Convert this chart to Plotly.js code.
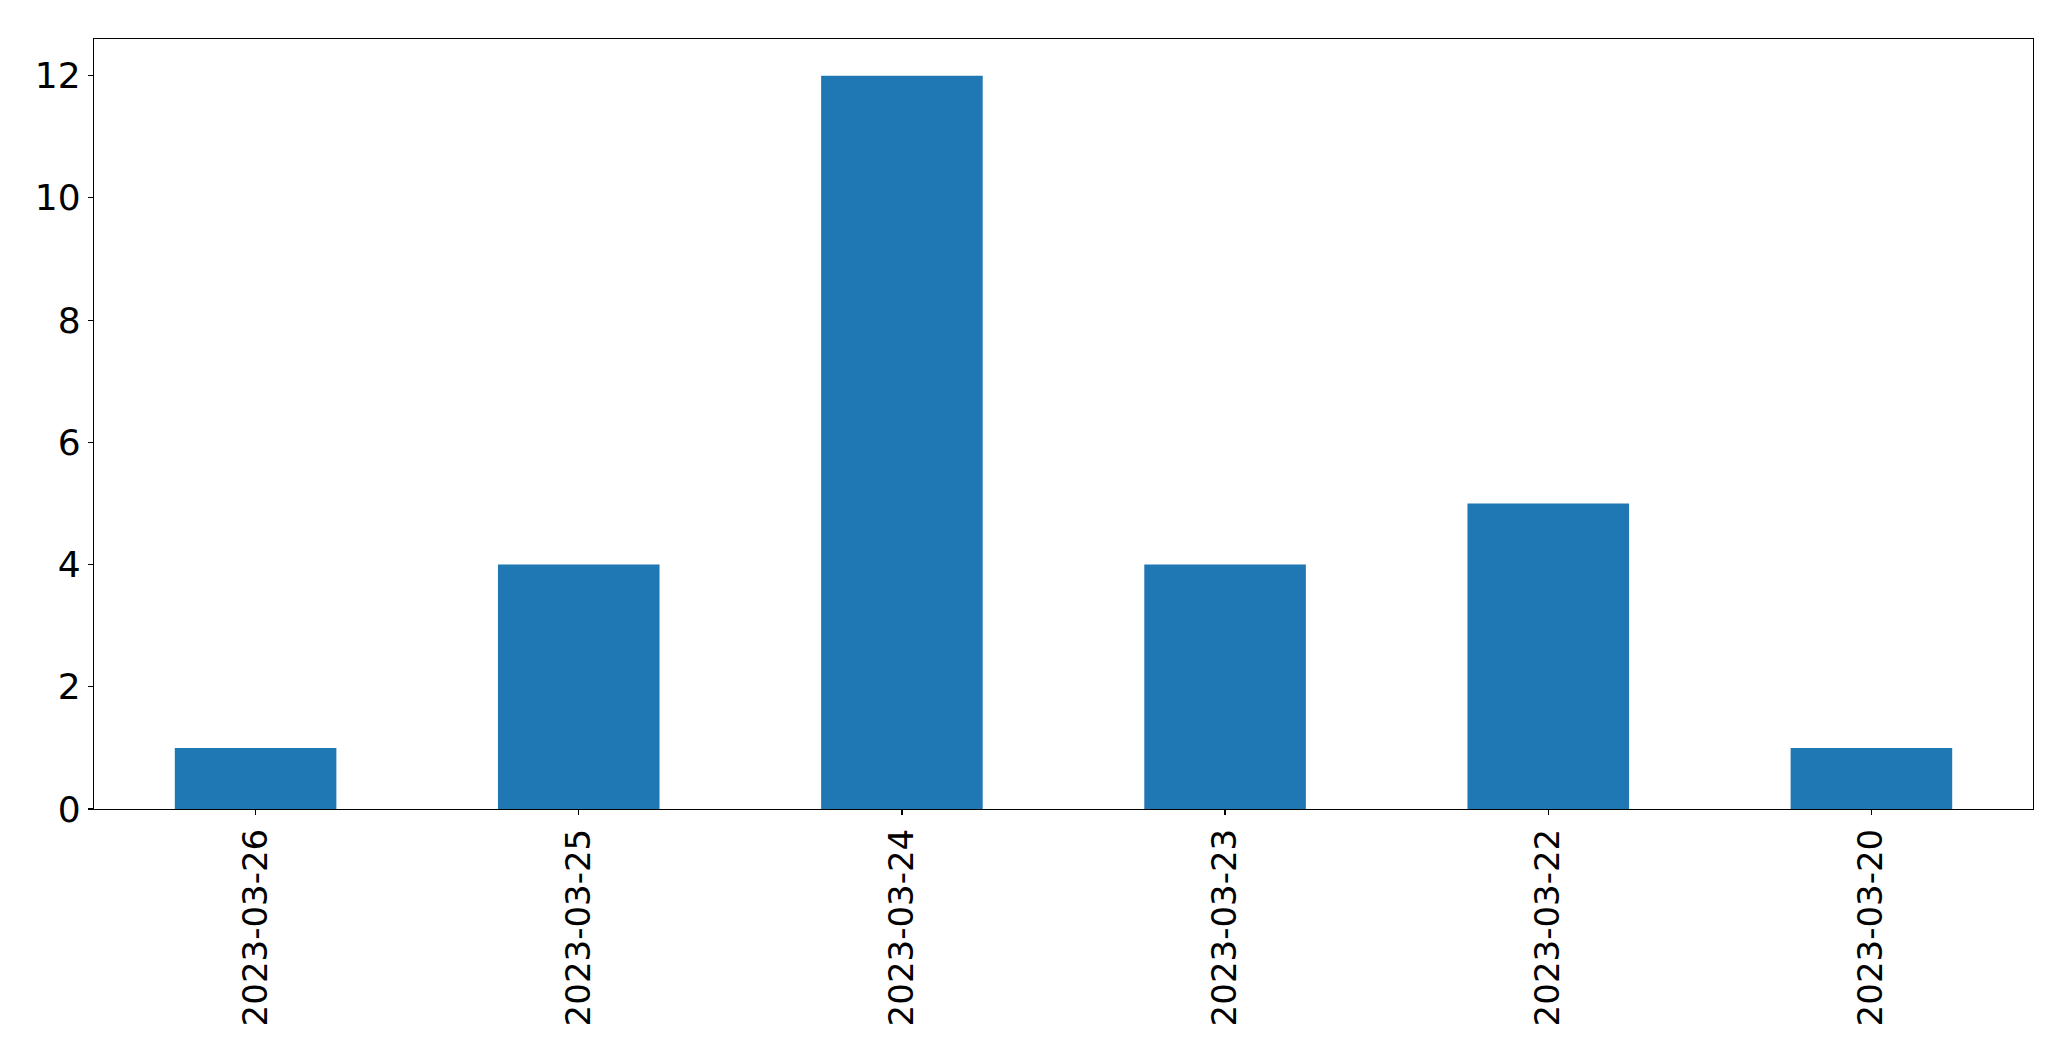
<!DOCTYPE html>
<html>
<head>
<meta charset="utf-8">
<script src="https://cdn.plot.ly/plotly-3.0.1.min.js"></script>
<style>html,body{margin:0;padding:0;background:#fff;}#chart{width:2071px;height:1061px;}</style>
</head>
<body>
<div id="chart"></div>
<script>
const categories = ["2023-03-26", "2023-03-25", "2023-03-24", "2023-03-23", "2023-03-22", "2023-03-20"];
const counts = [1, 4, 12, 4, 5, 1];
const yTicks = [0, 2, 4, 6, 8, 10, 12];

const trace = {
  type: 'bar',
  x: categories,
  y: counts,
  width: 0.5,
  marker: {color: '#1f77b4', line: {width: 0}},
  hoverinfo: 'x+y'
};

const yFont = {family: 'DejaVu Sans, sans-serif', size: 36, color: '#000'};
const xFont = {family: 'DejaVu Sans, sans-serif', size: 34, color: '#000'};

const layout = {
  width: 2071,
  height: 1061,
  margin: {l: 94, r: 38, t: 39, b: 252, pad: 0},
  paper_bgcolor: '#fff',
  plot_bgcolor: '#fff',
  showlegend: false,
  font: yFont,
  bargap: 0.5,
  xaxis: {
    type: 'category',
    categoryorder: 'array',
    categoryarray: categories,
    range: [-0.5, categories.length - 0.5],
    tickangle: -90,
    ticks: 'outside',
    ticklen: 5,
    tickwidth: 1.2,
    tickcolor: '#000',
    showline: true,
    linecolor: '#000',
    linewidth: 1.2,
    mirror: true,
    showgrid: false,
    zeroline: false,
    tickfont: xFont
  },
  yaxis: {
    range: [0, 12.6],
    tickmode: 'array',
    tickvals: yTicks,
    ticktext: yTicks.map(String),
    ticks: 'outside',
    ticklen: 5,
    tickwidth: 1.2,
    tickcolor: '#000',
    showline: true,
    linecolor: '#000',
    linewidth: 1.2,
    mirror: true,
    showgrid: false,
    zeroline: false,
    tickfont: yFont
  }
};

Plotly.newPlot('chart', [trace], layout, {displayModeBar: false, staticPlot: true});
</script>
</body>
</html>
